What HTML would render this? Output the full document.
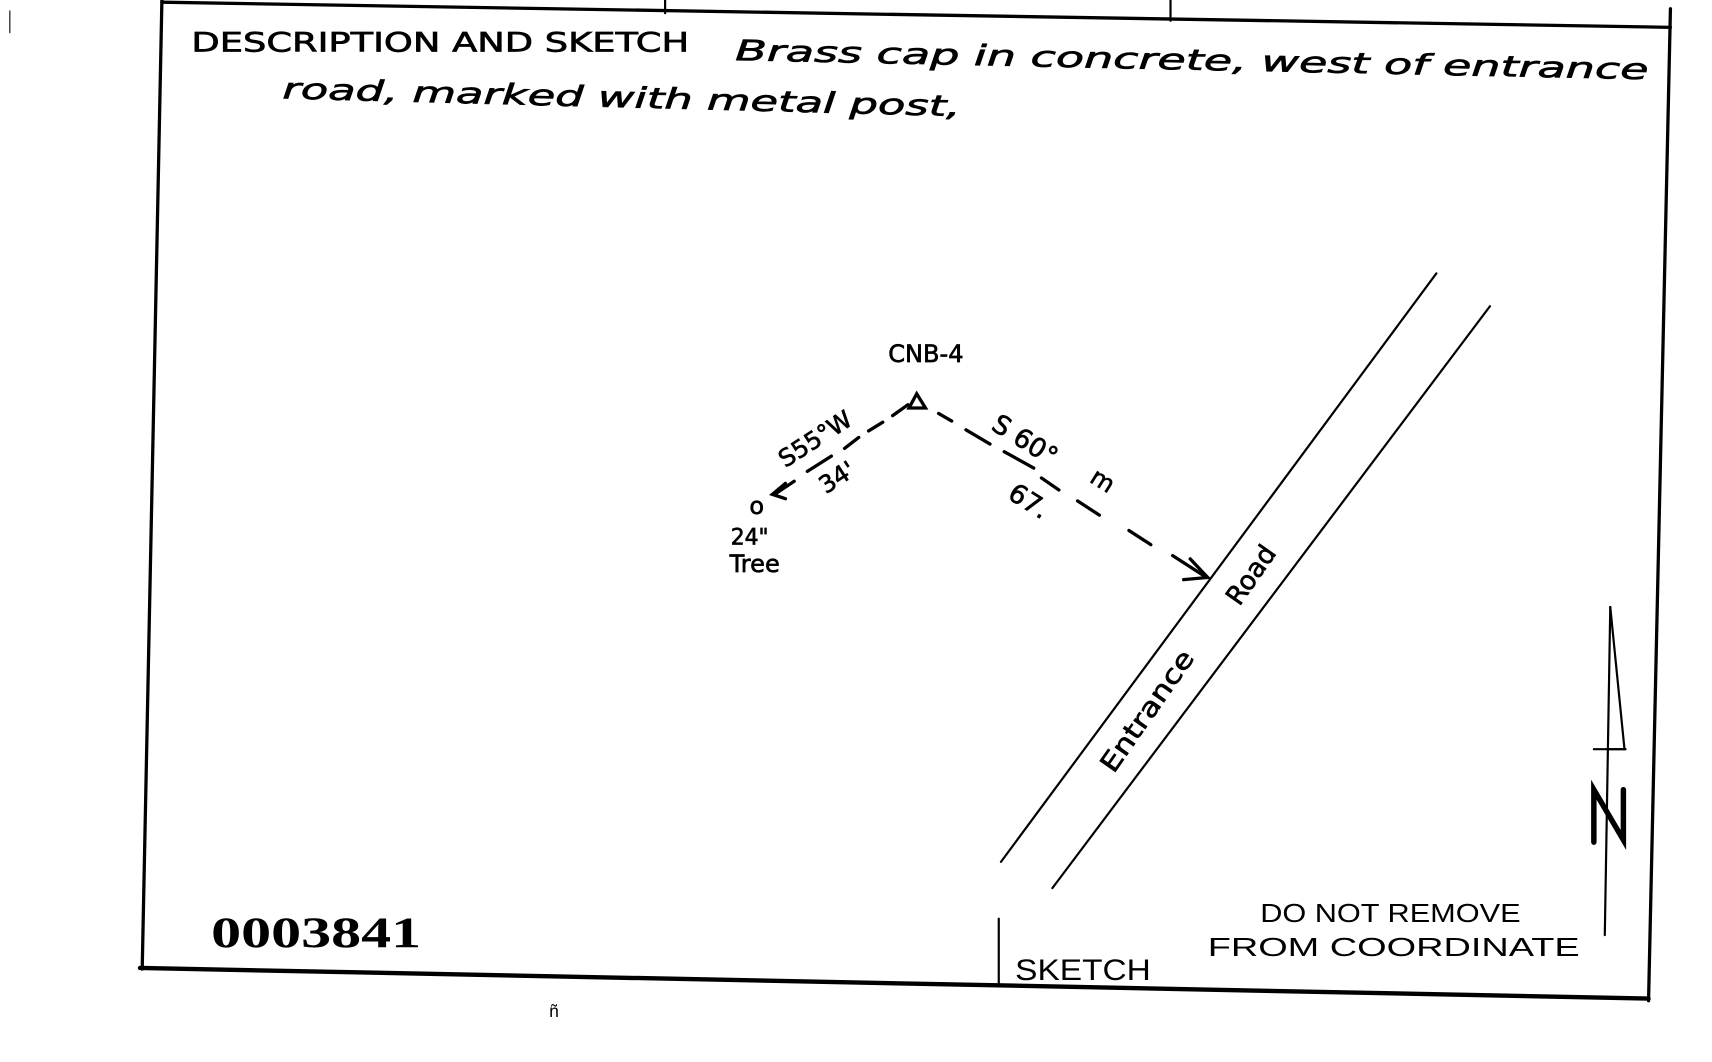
<!DOCTYPE html>
<html><head><meta charset="utf-8"><style>
html,body{margin:0;padding:0;background:#fff;width:1712px;height:1062px;overflow:hidden}
svg{display:block}
.h{font-family:"DejaVu Sans","Liberation Sans",sans-serif;fill:#000;stroke:#000;stroke-width:0.6}
.p{font-family:"Liberation Sans",sans-serif;fill:#000}
</style></head><body>
<svg width="1712" height="1062" viewBox="0 0 1565 971" preserveAspectRatio="none" xmlns="http://www.w3.org/2000/svg">
<g stroke="#000" fill="none" stroke-linecap="round">
<line x1="148" y1="2" x2="1527" y2="25" stroke-width="3"/>
<line x1="608" y1="0" x2="608" y2="12" stroke-width="2"/>
<line x1="1070" y1="0" x2="1070" y2="19" stroke-width="2"/>
<line x1="148" y1="0" x2="130" y2="886" stroke-width="3"/>
<line x1="1527" y1="8" x2="1507" y2="915" stroke-width="3"/>
<line x1="128" y1="885" x2="1507" y2="913" stroke-width="4"/>
<line x1="913" y1="840" x2="913" y2="900" stroke-width="2"/>
<line x1="9" y1="10" x2="9" y2="30" stroke-width="1"/>
<line x1="1313" y1="250" x2="915" y2="788" stroke-width="2"/>
<line x1="1362" y1="280" x2="962" y2="812" stroke-width="2"/>
<g stroke-width="3">
<line x1="858" y1="378" x2="870" y2="385"/>
<line x1="883" y1="393" x2="905" y2="406"/>
<line x1="918" y1="413" x2="945" y2="428"/>
<line x1="952" y1="437" x2="968" y2="448"/>
<line x1="985" y1="458" x2="1005" y2="471"/>
<line x1="1032" y1="485" x2="1052" y2="498"/>
<line x1="1072" y1="508" x2="1103" y2="528"/>
<polyline points="1088,511 1104,528 1082,530"/>
<line x1="830" y1="370" x2="816" y2="380"/>
<line x1="807" y1="386" x2="794" y2="394"/>
<line x1="785" y1="400" x2="772" y2="410"/>
<line x1="760" y1="417" x2="738" y2="431"/>
<line x1="708" y1="452" x2="726" y2="440"/>
<polyline points="718,442 706,452 718,456"/>
<polygon points="831,373 838,360 846,373"/>
</g>
<line x1="1472" y1="555" x2="1467" y2="855" stroke-width="2"/>
<polyline points="1472,555 1485,685 1470,685" stroke-width="2"/>
<line x1="1457" y1="685" x2="1486" y2="685" stroke-width="2"/>
<path d="M1457,770 L1457,722 L1484,768 L1484,722" stroke-width="5"/>
</g>
<text class="h" x="175" y="47" font-size="24" textLength="455" lengthAdjust="spacingAndGlyphs">DESCRIPTION  AND  SKETCH</text>
<text class="h" x="672" y="55" font-size="26" font-style="italic" transform="rotate(1.2 672 55)" textLength="835" lengthAdjust="spacingAndGlyphs">Brass cap  in  concrete, west of entrance</text>
<text class="h" x="258" y="90" font-size="26" font-style="italic" transform="rotate(1.5 258 90)" textLength="620" lengthAdjust="spacingAndGlyphs">road, marked with metal post,</text>
<text class="h" x="812" y="331" font-size="22">CNB-4</text>
<text class="h" x="718" y="428" font-size="22" transform="rotate(-33 718 428)">S55°W</text>
<text class="h" x="755" y="452" font-size="22" transform="rotate(-33 755 452)">34'</text>
<text class="h" x="685" y="470" font-size="22">o</text>
<text class="h" x="668" y="498" font-size="20">24"</text>
<text class="h" x="667" y="523" font-size="22">Tree</text>
<text class="h" x="905" y="392" font-size="24" transform="rotate(32 905 392)">S 60°</text>
<text class="h" x="920" y="455" font-size="24" transform="rotate(32 920 455)">67.</text>
<text class="h" x="995" y="440" font-size="22" transform="rotate(32 995 440)">m</text>
<text class="h" x="1018" y="708" font-size="24" transform="rotate(-55 1018 708)" textLength="130" lengthAdjust="spacingAndGlyphs">Entrance</text>
<text class="h" x="1133" y="555" font-size="24" transform="rotate(-55 1133 555)">Road</text>
<text class="p" x="193" y="866" font-size="40" font-weight="bold" style="font-family:'Liberation Serif',serif" textLength="192" lengthAdjust="spacingAndGlyphs">0003841</text>
<text class="p" x="928" y="896" font-size="27" textLength="124" lengthAdjust="spacingAndGlyphs">SKETCH</text>
<text class="p" x="1152" y="843" font-size="24" textLength="238" lengthAdjust="spacingAndGlyphs">DO NOT REMOVE</text>
<text class="p" x="1104" y="874" font-size="24" textLength="340" lengthAdjust="spacingAndGlyphs">FROM COORDINATE</text>
<text class="p" x="502" y="930" font-size="16">ñ</text>
</svg>
</body></html>
